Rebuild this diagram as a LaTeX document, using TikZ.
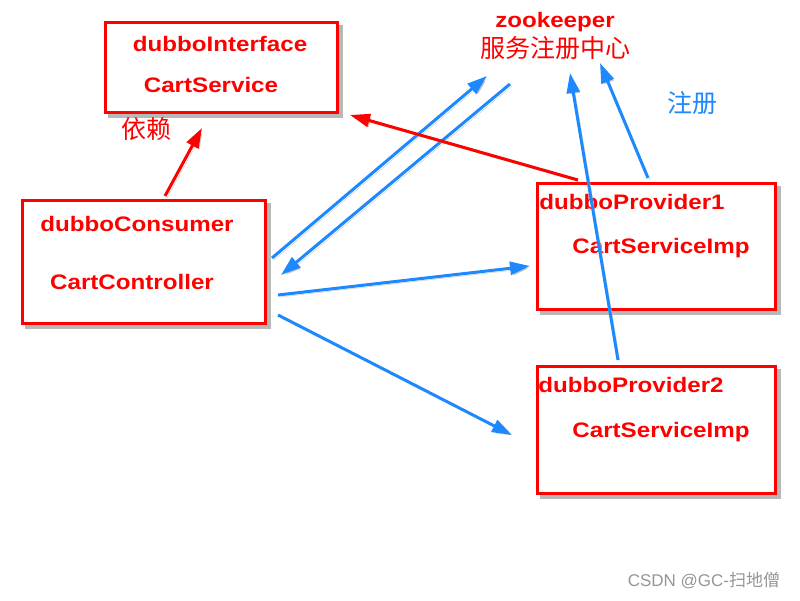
\documentclass[tikz,border=0pt]{standalone}
\usepackage{fontspec}
\setmainfont{Liberation Sans}
\newfontfamily\cjk{Noto Sans CJK SC}
\newfontfamily\lblfont[FakeStretch=1.15]{Liberation Sans Bold}
\usetikzlibrary{arrows.meta}
\pgfdeclarelayer{bg}
\pgfsetlayers{bg,main}
\definecolor{rd}{RGB}{255,0,0}
\definecolor{bl}{RGB}{30,136,255}
\definecolor{gr}{RGB}{150,150,150}
\tikzset{
  box/.style={draw=rd, line width=3pt, inner sep=0pt},
  bshadow/.style={fill=black!28},
  lbl/.style={text=rd, font=\lblfont\fontsize{21}{24}\selectfont, inner sep=0pt},
  cn/.style={font=\cjk\fontsize{25}{28}\selectfont, inner sep=0pt},
  shad/.style={preaction={draw=black!22, transform canvas={shift={(2pt,-2pt)}}}},
  barrow/.style={draw=bl, line width=3pt, -{Triangle[length=20pt,width=13pt]}, shad},
  rarrow/.style={draw=rd, line width=3pt, -{Triangle[length=20pt,width=13pt]}, shad},
}
\begin{document}
\begin{tikzpicture}[x=1pt,y=-1pt]
\useasboundingbox (0,0) rectangle (800,600);
\begin{pgfonlayer}{bg}
\fill[white] (0,0) rectangle (800,600);
\end{pgfonlayer}
% boxes
\node[box, minimum width=232pt, minimum height=90pt] (iface) at (221,67) {};
\node[box, minimum width=243pt, minimum height=123pt] (cons) at (143.5,261.5) {};
\node[box, minimum width=238pt, minimum height=126pt] (prov1) at (656,246) {};
\node[box, minimum width=238pt, minimum height=127pt] (prov2) at (656,429.5) {};
\begin{pgfonlayer}{bg}
\foreach \b in {iface,cons,prov1,prov2}{
  \fill[bshadow] ([shift={(4,4)}]\b.north west) rectangle ([shift={(4,4)}]\b.south east);
  \fill[white] ([shift={(1.5,1.5)}]\b.north west) rectangle ([shift={(-1.5,-1.5)}]\b.south east);
}
\end{pgfonlayer}
% texts
\node[lbl] (t1) at (220,44) {dubboInterface};
\node[lbl] (t2) at (211,85) {CartService};
\node[lbl] (t3) at (137,224) {dubboConsumer};
\node[lbl] (t4) at (132,282) {CartController};
\node[lbl] (t5) at (632,202) {dubboProvider1};
\node[lbl] (t6) at (661,248) {CartServiceImp};
\node[lbl] (t7) at (631,385) {dubboProvider2};
\node[lbl] (t8) at (661,432) {CartServiceImp};
\node[lbl] (zk) at (555,22) {zookeeper};
\node[cn, text=rd] (zkc) at (555,48) {服务注册中心};
\node[cn, text=rd] (dep) at (146,129) {依赖};
\node[cn, text=bl] (reg) at (692,103) {注册};
\node[font=\fontsize{17}{19}\selectfont, text=gr, inner sep=0pt] (wm) at (704,581) {CSDN @GC-{\cjk 扫地僧}};
% connector endpoints
\coordinate (a1s) at (272,258); \coordinate (a1e) at (487,76);
\coordinate (a2s) at (510,84);  \coordinate (a2e) at (281,275);
\coordinate (a3s) at (278,295); \coordinate (a3e) at (530,266);
\coordinate (a4s) at (278,315); \coordinate (a4e) at (512,435);
\coordinate (a5s) at (618,360); \coordinate (a5e) at (570,73);
\coordinate (a6s) at (648,178); \coordinate (a6e) at (600,63);
\coordinate (r1s) at (165,196); \coordinate (r1e) at (202,128);
\coordinate (r2s) at (578,180); \coordinate (r2e) at (350,115);
% connectors
\draw[barrow] (a1s) -- (a1e);
\draw[barrow] (a2s) -- (a2e);
\draw[barrow] (a3s) -- (a3e);
\draw[barrow] (a4s) -- (a4e);
\draw[barrow] (a5s) -- (a5e);
\draw[barrow] (a6s) -- (a6e);
\draw[rarrow] (r1s) -- (r1e);
\draw[rarrow] (r2s) -- (r2e);
\end{tikzpicture}
\end{document}
